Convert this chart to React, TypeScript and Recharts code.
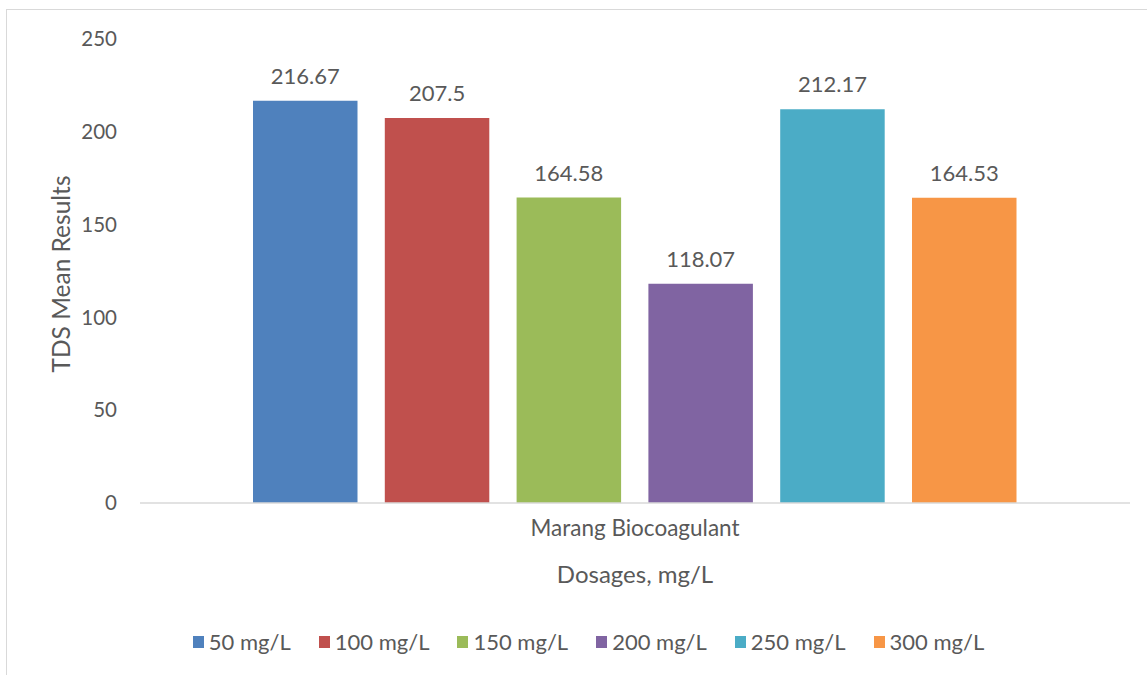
import React from 'react';
import { BarChart, Bar, XAxis, YAxis, Legend, LabelList, Label } from 'recharts';

const categories = ['Marang Biocoagulant'];
const seriesNames = ['50 mg/L', '100 mg/L', '150 mg/L', '200 mg/L', '250 mg/L', '300 mg/L'];
const seriesValues = [216.67, 207.5, 164.58, 118.07, 212.17, 164.53];
const seriesColors = ['#4F81BD', '#C0504D', '#9BBB59', '#8064A2', '#4BACC6', '#F79646'];
const yTicks = [0, 50, 100, 150, 200, 250];

const data = categories.map((c) => {
  const row: Record<string, string | number> = { category: c };
  seriesNames.forEach((n, i) => {
    row[n] = seriesValues[i];
  });
  return row;
});

const FONT = 'Lato, "Open Sans", sans-serif';
const TEXT = '#595959';

const renderLegend = () => (
  <div style={{ display: 'flex', justifyContent: 'center', alignItems: 'center', paddingLeft: 30, fontFamily: FONT, fontSize: 22, color: TEXT, lineHeight: '26px' }}>
    {seriesNames.map((n, i) => (
      <div key={n} style={{ display: 'flex', alignItems: 'center', marginRight: i < seriesNames.length - 1 ? 28 : 0 }}>
        <span style={{ display: 'inline-block', width: 11, height: 12, background: seriesColors[i], marginRight: 5 }} />
        <span>{n}</span>
      </div>
    ))}
  </div>
);

export default function App() {
  return (
    <div style={{ position: 'fixed', left: 0, top: 0, width: 1147, height: 675, background: '#ffffff', overflow: 'hidden' }}>
      <div style={{ position: 'absolute', left: 6, top: 9, width: 1200, height: 720, border: '1px solid #d9d9d9', boxSizing: 'border-box' }} />
      <div style={{ position: 'absolute', left: 0, top: 0 }}>
        <BarChart
          width={1147}
          height={675}
          data={data}
          margin={{ top: 39, right: 17, left: 0, bottom: 0 }}
          barSize={104.5}
          barGap={27.3}
        >
          <XAxis
            dataKey="category"
            height={172}
            tickSize={0}
            tickMargin={17}
            axisLine={{ stroke: '#d9d9d9', strokeWidth: 1.5 }}
            tick={{ fill: TEXT, fontSize: 22.5, fontFamily: FONT }}
          >
            <Label
              content={(p: any) => {
                const vb = p.viewBox;
                return (
                  <text x={vb.x + vb.width / 2} y={vb.y + 80} textAnchor="middle" fill={TEXT} fontSize={24} fontFamily={FONT}>
                    Dosages, mg/L
                  </text>
                );
              }}
            />
          </XAxis>
          <YAxis
            width={140}
            domain={[0, 250]}
            ticks={yTicks}
            tickSize={0}
            tickMargin={23}
            axisLine={false}
            tickLine={false}
            tick={{ fill: TEXT, fontSize: 20.5, fontFamily: FONT }}
          >
            <Label
              content={(p: any) => {
                const vb = p.viewBox;
                const cx = 60;
                const cy = vb.y + vb.height / 2 + 3;
                return (
                  <text x={cx} y={cy} transform={`rotate(-90 ${cx} ${cy})`} textAnchor="middle" dominantBaseline="central" fill={TEXT} fontSize={24.5} fontFamily={FONT}>
                    TDS Mean Results
                  </text>
                );
              }}
            />
          </YAxis>
          <Legend
            verticalAlign="middle"
            align="center"
            layout="horizontal"
            content={renderLegend}
            wrapperStyle={{ top: 629, left: 0, width: 1147 }}
          />
          {seriesNames.map((n, i) => (
            <Bar key={n} dataKey={n} name={n} fill={seriesColors[i]} isAnimationActive={false}>
              <LabelList dataKey={n} position="top" offset={17} fill={TEXT} fontSize={22} fontFamily={FONT} />
            </Bar>
          ))}
        </BarChart>
      </div>
    </div>
  );
}
